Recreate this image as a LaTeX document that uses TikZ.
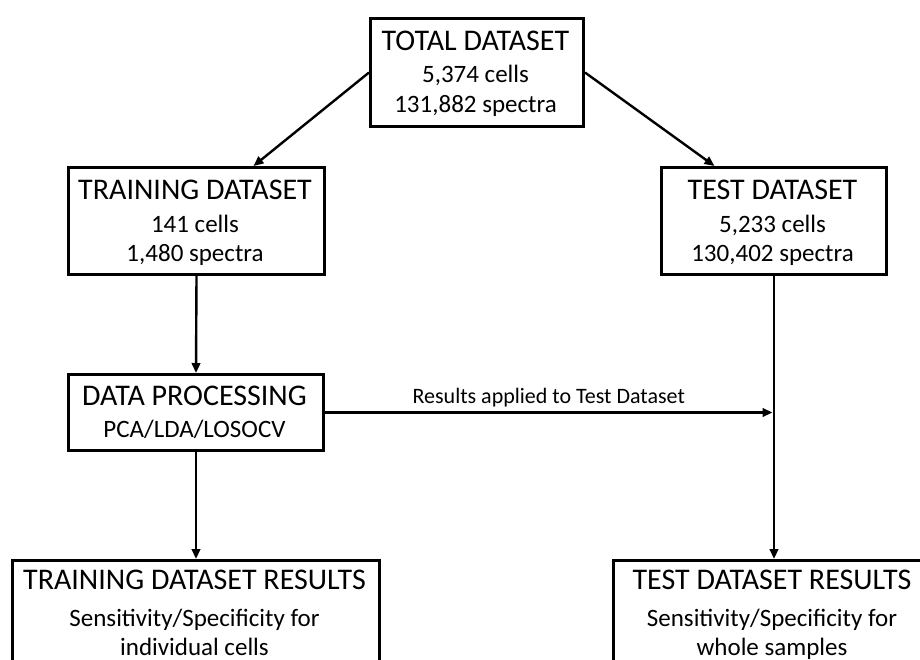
\documentclass[tikz,border=0pt]{standalone}
\usepackage{fontspec}
\setmainfont{Carlito}
\usetikzlibrary{arrows.meta,calc}
\begin{document}
\begin{tikzpicture}[x=1pt,y=-1pt,
  boxnode/.style={draw=black,line width=3pt,rectangle,inner sep=0pt},
  txt/.style={align=center,inner sep=0pt,font=\fontsize{25}{30}\selectfont},
  conn/.style={line width=2.4pt,-{Triangle[length=10pt,width=8.5pt]}}]
\clip (0,0) rectangle (920,659);
\fill[white] (0,0) rectangle (920,659);
% boxes
\node[boxnode,anchor=north west,minimum width=213pt,minimum height=108pt] (total) at (369,17) {};
\node[boxnode,anchor=north west,minimum width=256pt,minimum height=107pt] (train) at (67,166) {};
\node[boxnode,anchor=north west,minimum width=225pt,minimum height=107pt] (test) at (660,166) {};
\node[boxnode,anchor=north west,minimum width=255pt,minimum height=76pt] (proc) at (67,373) {};
\node[boxnode,anchor=north west,minimum width=367pt,minimum height=160pt] (trres) at (11,559) {};
\node[boxnode,anchor=north west,minimum width=322pt,minimum height=160pt] (teres) at (612,559) {};
% texts (anchored at the baseline of their last line)
\node[txt,anchor=base] (totalT) at (475.5,112) {{\fontsize{30}{30}\selectfont TOTAL DATASET}\\[2pt]5,374 cells\\131,882 spectra};
\node[txt,anchor=base] (trainT) at (195,261) {{\fontsize{30}{30}\selectfont TRAINING DATASET}\\[3pt]141 cells\\[-1pt]1,480 spectra};
\node[txt,anchor=base] (testT) at (772.5,261) {{\fontsize{30}{30}\selectfont TEST DATASET}\\[3pt]5,233 cells\\[-1pt]130,402 spectra};
\node[txt,anchor=base] (procT) at (194.5,437) {{\fontsize{30}{30}\selectfont DATA PROCESSING}\\[2pt]PCA/LDA/LOSOCV};
\node[txt,anchor=base] (trresT) at (194.5,655) {{\fontsize{30}{30}\selectfont TRAINING DATASET RESULTS}\\[7pt]Sensitivity/Specificity for\\[-1pt]individual cells};
\node[txt,anchor=base] (teresT) at (772,655) {{\fontsize{30}{30}\selectfont TEST DATASET RESULTS}\\[7pt]Sensitivity/Specificity for\\[-1pt]whole samples};
% connectors
\coordinate (trainIn) at ([xshift=57pt]train.north);
\coordinate (testIn) at ([xshift=-59.5pt]test.north);
\draw[conn] (total.west) -- (trainIn);
\draw[conn] (total.east) -- (testIn);
\draw[conn] (train.south) -- (proc.north);
\draw[conn] (proc.south) -- (proc.south |- trres.north);
\draw[conn] (test.south) -- (test.south |- teres.north);
\coordinate (joint) at (proc.east -| test.south);
\draw[conn] (proc.east) -- ([xshift=-1.5pt]joint)
  node[midway,above=4pt,inner sep=0pt,font=\fontsize{22}{24}\selectfont] (lbl) {Results applied to Test Dataset};
\end{tikzpicture}
\end{document}
